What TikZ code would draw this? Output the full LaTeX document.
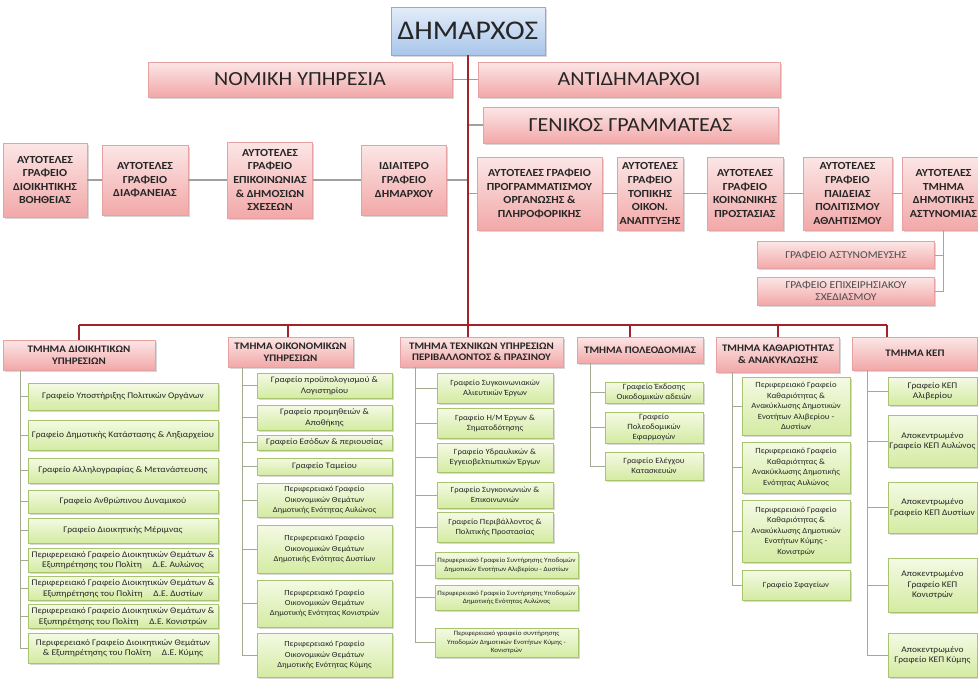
\documentclass[tikz,border=0pt]{standalone}
\usepackage{fontspec}
\setmainfont{Carlito}[FakeStretch=1.1]
\usetikzlibrary{shadows}
\definecolor{pinkT}{HTML}{FCE6E6}
\definecolor{pinkM}{HTML}{F2A8A8}
\definecolor{pinkB}{HTML}{E6A2A2}
\definecolor{blueT}{HTML}{E3EDF9}
\definecolor{blueM}{HTML}{A9C5EA}
\definecolor{blueB}{HTML}{8EAADB}
\definecolor{greenT}{HTML}{F4FAE4}
\definecolor{greenM}{HTML}{D4EBA2}
\definecolor{greenB}{HTML}{A8C46E}
\definecolor{redL}{HTML}{A3232B}
\definecolor{grayL}{HTML}{A0A0A0}
\definecolor{colL}{HTML}{A3AA92}
\definecolor{txt}{HTML}{262626}
\newcommand\gfont{\fontsize{8}{10}\selectfont}
\tikzset{
  shad/.style={drop shadow={opacity=0.3,shadow xshift=1.5pt,shadow yshift=-1.5pt}},
  pinkbox/.style={shad,draw=pinkB,line width=0.5pt,top color=pinkT,bottom color=pinkM,align=center,inner sep=1pt,text=txt},
  bluebox/.style={shad,draw=blueB,line width=0.5pt,top color=blueT,bottom color=blueM,align=center,inner sep=1pt,text=txt},
  greenbox/.style={shad,draw=greenB,line width=0.5pt,top color=greenT,bottom color=greenM,align=center,inner sep=1pt,text=txt,font=\gfont},
  bigtxt/.style={font=\fontsize{20}{23}\selectfont},
  boldtxt/.style={font=\bfseries\fontsize{10.8}{13.6}\selectfont},
  headtxt/.style={font=\bfseries\fontsize{10}{11.5}\selectfont},
  subtxt/.style={font=\fontsize{10.5}{12}\selectfont,text=black!70},
  redline/.style={draw=redL,line width=2.5pt},
  grayline/.style={draw=grayL,line width=1.2pt},
  colline/.style={draw=colL,line width=1pt},
}
\newcommand\greenbx[6]{\node[greenbox,minimum width=#4,minimum height=#5] (#1) at (#2,#3) {#6};}
\newcommand\pinkbx[7]{\node[pinkbox,#7,minimum width=#4,minimum height=#5] (#1) at (#2,#3) {#6};}
\begin{document}
\begin{tikzpicture}[x=1pt,y=-1pt]
\fill[white] (0,0) rectangle (978,678);
\useasboundingbox (0,0) rectangle (978,678);
% top
\node[bluebox,minimum width=154,minimum height=48,font=\fontsize{27}{30}\selectfont] (dim) at (468,31) {ΔΗΜΑΡΧΟΣ};
\pinkbx{nom}{300}{79.5}{304}{35}{ΝΟΜΙΚΗ ΥΠΗΡΕΣΙΑ}{bigtxt}
\pinkbx{ant}{629}{79.5}{302}{35}{ΑΝΤΙΔΗΜΑΡΧΟΙ}{bigtxt}
\pinkbx{gen}{630.5}{125}{295}{36}{ΓΕΝΙΚΟΣ ΓΡΑΜΜΑΤΕΑΣ}{bigtxt}
% left row
\pinkbx{l1}{45}{180}{84}{74}{ΑΥΤΟΤΕΛΕΣ\\ΓΡΑΦΕΙΟ\\ΔΙΟΙΚΗΤΙΚΗΣ\\ΒΟΗΘΕΙΑΣ}{boldtxt}
\pinkbx{l2}{145}{180}{86}{70}{ΑΥΤΟΤΕΛΕΣ\\ΓΡΑΦΕΙΟ\\ΔΙΑΦΑΝΕΙΑΣ}{boldtxt}
\pinkbx{l3}{270}{180}{85}{76}{ΑΥΤΟΤΕΛΕΣ\\ΓΡΑΦΕΙΟ\\ΕΠΙΚΟΙΝΩΝΙΑΣ\\\& ΔΗΜΟΣΙΩΝ\\ΣΧΕΣΕΩΝ}{boldtxt}
\pinkbx{l4}{404}{180}{85}{70}{ΙΔΙΑΙΤΕΡΟ\\ΓΡΑΦΕΙΟ\\ΔΗΜΑΡΧΟΥ}{boldtxt}
% right row
\pinkbx{r1}{539.5}{193.5}{125}{73}{ΑΥΤΟΤΕΛΕΣ ΓΡΑΦΕΙΟ\\ΠΡΟΓΡΑΜΜΑΤΙΣΜΟΥ\\ΟΡΓΑΝΩΣΗΣ \&\\ΠΛΗΡΟΦΟΡΙΚΗΣ}{boldtxt}
\pinkbx{r2}{650}{193.5}{66}{73}{ΑΥΤΟΤΕΛΕΣ\\ΓΡΑΦΕΙΟ\\ΤΟΠΙΚΗΣ\\ΟΙΚΟΝ.\\ΑΝΑΠΤΥΞΗΣ}{boldtxt}
\pinkbx{r3}{745}{193.5}{76}{73}{ΑΥΤΟΤΕΛΕΣ\\ΓΡΑΦΕΙΟ\\ΚΟΙΝΩΝΙΚΗΣ\\ΠΡΟΣΤΑΣΙΑΣ}{boldtxt}
\pinkbx{r4}{847.5}{193.5}{89}{73}{ΑΥΤΟΤΕΛΕΣ\\ΓΡΑΦΕΙΟ\\ΠΑΙΔΕΙΑΣ\\ΠΟΛΙΤΙΣΜΟΥ\\ΑΘΛΗΤΙΣΜΟΥ}{boldtxt}
\pinkbx{r5}{943.5}{193.5}{83}{73}{ΑΥΤΟΤΕΛΕΣ\\ΤΜΗΜΑ\\ΔΗΜΟΤΙΚΗΣ\\ΑΣΤΥΝΟΜΙΑΣ}{boldtxt}
\pinkbx{s1}{846}{255}{177}{27}{ΓΡΑΦΕΙΟ ΑΣΤΥΝΟΜΕΥΣΗΣ}{subtxt}
\pinkbx{s2}{846}{291}{177}{28}{ΓΡΑΦΕΙΟ ΕΠΙΧΕΙΡΗΣΙΑΚΟΥ\\ΣΧΕΔΙΑΣΜΟΥ}{subtxt}
% department headers
\pinkbx{h1}{79}{355}{152}{30}{ΤΜΗΜΑ ΔΙΟΙΚΗΤΙΚΩΝ\\ΥΠΗΡΕΣΙΩΝ}{headtxt}
\pinkbx{h2}{290.5}{352}{125}{30}{ΤΜΗΜΑ ΟΙΚΟΝΟΜΙΚΩΝ\\ΥΠΗΡΕΣΙΩΝ}{headtxt}
\pinkbx{h3}{481.5}{352}{163}{30}{ΤΜΗΜΑ ΤΕΧΝΙΚΩΝ ΥΠΗΡΕΣΙΩΝ\\ΠΕΡΙΒΑΛΛΟΝΤΟΣ \& ΠΡΑΣΙΝΟΥ}{headtxt}
\pinkbx{h4}{640}{350}{126}{26}{ΤΜΗΜΑ ΠΟΛΕΟΔΟΜΙΑΣ}{headtxt}
\pinkbx{h5}{778}{354.5}{123}{35}{ΤΜΗΜΑ ΚΑΘΑΡΙΟΤΗΤΑΣ\\\& ΑΝΑΚΥΚΛΩΣΗΣ}{headtxt}
\pinkbx{h6}{915}{353.5}{125}{33}{ΤΜΗΜΑ ΚΕΠ}{headtxt}
% column 1
\begin{scope}
\renewcommand\gfont{\fontsize{8.6}{10.5}\selectfont}
\greenbx{a1}{123}{396.5}{190}{27}{Γραφείο Υποστήριξης Πολιτικών Οργάνων}
\greenbx{a2}{123}{435}{190}{30}{Γραφείο Δημοτικής Κατάστασης \& Ληξιαρχείου}
\greenbx{a3}{123}{470.5}{190}{25}{Γραφείο Αλληλογραφίας \& Μετανάστευσης}
\greenbx{a4}{123}{501.5}{190}{23}{Γραφείο Ανθρώπινου Δυναμικού}
\greenbx{a5}{123}{530.5}{190}{25}{Γραφείο Διοικητικής Μέριμνας}
\greenbx{a6}{123}{560}{190}{24}{Περιφερειακό Γραφείο Διοικητικών Θεμάτων \&\\Εξυπηρέτησης του Πολίτη \quad Δ.Ε. Αυλώνος}
\greenbx{a7}{123}{588.5}{190}{24}{Περιφερειακό Γραφείο Διοικητικών Θεμάτων \&\\Εξυπηρέτησης του Πολίτη \quad Δ.Ε. Δυστίων}
\greenbx{a8}{123}{616.5}{190}{24}{Περιφερειακό Γραφείο Διοικητικών Θεμάτων \&\\Εξυπηρέτησης του Πολίτη \quad Δ.Ε. Κονιστρών}
\greenbx{a9}{123}{648}{190}{30}{Περιφερειακό Γραφείο Διοικητικών Θεμάτων\\\& Εξυπηρέτησης του Πολίτη \quad Δ.Ε. Κύμης}
\end{scope}
% column 2
\begin{scope}
\renewcommand\gfont{\fontsize{8.4}{10.5}\selectfont}
\greenbx{b1}{324.5}{385.5}{135}{25}{Γραφείο προϋπολογισμού \&\\Λογιστηρίου}
\greenbx{b2}{324.5}{417.5}{135}{25}{Γραφείο προμηθειών \&\\Αποθήκης}
\greenbx{b3}{324.5}{442.5}{135}{15}{Γραφείο Εσόδων \& περιουσίας}
\greenbx{b4}{324.5}{466.5}{135}{17}{Γραφείο Ταμείου}
\renewcommand\gfont{\fontsize{7.8}{10.3}\selectfont}
\greenbx{b5}{324.5}{500}{135}{34}{Περιφερειακό Γραφείο\\Οικονομικών Θεμάτων\\Δημοτικής Ενότητας Αυλώνος}
\greenbx{b6}{324.5}{549}{135}{48}{Περιφερειακό Γραφείο\\Οικονομικών Θεμάτων\\Δημοτικής Ενότητας Δυστίων}
\greenbx{b7}{324.5}{603.5}{135}{47}{Περιφερειακό Γραφείο\\Οικονομικών Θεμάτων\\Δημοτικής Ενότητας Κονιστρών}
\greenbx{b8}{324.5}{655}{135}{44}{Περιφερειακό Γραφείο\\Οικονομικών Θεμάτων\\Δημοτικής Ενότητας Κύμης}
\end{scope}
% column 3
\begin{scope}
\renewcommand\gfont{\fontsize{7.9}{10}\selectfont}
\greenbx{c1}{495}{388}{116}{30}{Γραφείο Συγκοινωνιακών\\Αλιευτικών Έργων}
\greenbx{c2}{495}{423}{116}{30}{Γραφείο Η/Μ Έργων \&\\Σηματοδότησης}
\greenbx{c3}{495}{457.5}{116}{29}{Γραφείο Υδραυλικών \&\\Εγγειοβελτιωτικών Έργων}
\greenbx{c4}{495}{495}{116}{26}{Γραφείο Συγκοινωνιών \&\\Επικοινωνιών}
\greenbx{c5}{495}{527}{116}{30}{Γραφείο Περιβάλλοντος \&\\Πολιτικής Προστασίας}
\renewcommand\gfont{\fontsize{6.6}{8.6}\selectfont}
\greenbx{c6}{506.5}{565}{143}{26}{Περιφερειακό Γραφείο Συντήρησης Υποδομών\\Δημοτικών Ενοτήτων Αλιβερίου - Δυστίων}
\greenbx{c7}{506.5}{597.5}{143}{25}{Περιφερειακό Γραφείο Συντήρησης Υποδομών\\Δημοτικής Ενότητας Αυλώνος}
\greenbx{c8}{506.5}{642.5}{143}{29}{Περιφερειακό γραφείο συντήρησης\\Υποδομών Δημοτικών Ενοτήτων Κύμης -\\Κονιστρών}
\end{scope}
% column 4
\greenbx{d1}{654}{392.5}{98}{21}{Γραφείο Έκδοσης\\Οικοδομικών αδειών}
\greenbx{d2}{654}{427.5}{98}{31}{Γραφείο\\Πολεοδομικών\\Εφαρμογών}
\greenbx{d3}{654}{466}{98}{28}{Γραφείο Ελέγχου\\Κατασκευών}
% column 5
\begin{scope}
\renewcommand\gfont{\fontsize{7.9}{10.5}\selectfont}
\greenbx{e1}{796}{406}{108}{58}{Περιφερειακό Γραφείο\\Καθαριότητας \&\\Ανακύκλωσης Δημοτικών\\Ενοτήτων Αλιβερίου -\\Δυστίων}
\greenbx{e2}{796}{467.5}{108}{51}{Περιφερειακό Γραφείο\\Καθαριότητας \&\\Ανακύκλωσης Δημοτικής\\Ενότητας Αυλώνος}
\greenbx{e3}{796}{531}{108}{62}{Περιφερειακό Γραφείο\\Καθαριότητας \&\\Ανακύκλωσης Δημοτικών\\Ενοτήτων Κύμης -\\Κονιστρών}
\greenbx{e4}{796}{585}{108}{30}{Γραφείο Σφαγείων}
\end{scope}
% column 6
\begin{scope}
\renewcommand\gfont{\fontsize{8.6}{10.5}\selectfont}
\greenbx{f1}{932.5}{391}{89}{28}{Γραφείο ΚΕΠ\\Αλιβερίου}
\greenbx{f2}{932.5}{441}{89}{52}{Αποκεντρωμένο\\Γραφείο ΚΕΠ Αυλώνος}
\greenbx{f3}{932.5}{507.5}{89}{51}{Αποκεντρωμένο\\Γραφείο ΚΕΠ Δυστίων}
\greenbx{f4}{932.5}{585}{89}{54}{Αποκεντρωμένο\\Γραφείο ΚΕΠ\\Κονιστρών}
\greenbx{f5}{932.5}{655}{89}{44}{Αποκεντρωμένο\\Γραφείο ΚΕΠ Κύμης}
\end{scope}
% connectors: top
\draw[grayline] (nom.east) -- (nom.east -| dim.south);
\draw[grayline] (ant.west -| dim.south) -- (ant.west);
\draw[grayline] (gen.west -| dim.south) -- (gen.west);
\draw[grayline] (l1.east) -- (l2.west);
\draw[grayline] (l2.east) -- (l3.west);
\draw[grayline] (l3.east) -- (l4.west);
\draw[grayline] (l4.east) -- (l4.east -| dim.south);
\draw[grayline] (r1.west -| dim.south) -- (r1.west);
\draw[grayline] (r1.east) -- (r2.west);
\draw[grayline] (r2.east) -- (r3.west);
\draw[grayline] (r3.east) -- (r4.west);
\draw[grayline] (r4.east) -- (r5.west);
\draw[colline] (r5.south) -- (r5.south |- s2.east) -- (s2.east);
\draw[colline] (s1.east) -- (s1.east -| r5.south);
% red bus
\coordinate (k1) at (79,325);
\coordinate (k2) at (288,325);
\coordinate (k4) at (630,325);
\coordinate (k5) at (778,325);
\coordinate (k6) at (887,325);
\draw[redline] (dim.south) -- (dim.south |- h3.north);
\draw[redline] (k1) -- (k6);
\draw[redline] (k1) -- (k1 |- h1.north);
\draw[redline] (k2) -- (k2 |- h2.north);
\draw[redline] (k4) -- (k4 |- h4.north);
\draw[redline] (k5) -- (k5 |- h5.north);
\draw[redline] (k6) -- (k6 |- h6.north);
% column connectors
\coordinate (q1) at (20,0);
\coordinate (q2) at (242,0);
\coordinate (q3) at (415,0);
\coordinate (q4) at (590,0);
\coordinate (q5) at (732,0);
\coordinate (q6) at (867,0);
\draw[colline] (h1.south -| q1) -- (a9.west -| q1);
\foreach \n in {a1,a2,a3,a4,a5,a6,a7,a8,a9} \draw[colline] (\n.west) -- (\n.west -| q1);
\draw[colline] (h2.south -| q2) -- (b8.west -| q2);
\foreach \n in {b1,b2,b3,b4,b5,b6,b7,b8} \draw[colline] (\n.west) -- (\n.west -| q2);
\draw[colline] (h3.south -| q3) -- (c8.west -| q3);
\foreach \n in {c1,c2,c3,c4,c5,c6,c7,c8} \draw[colline] (\n.west) -- (\n.west -| q3);
\draw[colline] (h4.south -| q4) -- (d3.west -| q4);
\foreach \n in {d1,d2,d3} \draw[colline] (\n.west) -- (\n.west -| q4);
\draw[colline] (h5.south -| q5) -- (e4.west -| q5);
\foreach \n in {e1,e2,e3,e4} \draw[colline] (\n.west) -- (\n.west -| q5);
\draw[colline] (h6.south -| q6) -- (f5.west -| q6);
\foreach \n in {f1,f2,f3,f4,f5} \draw[colline] (\n.west) -- (\n.west -| q6);
\end{tikzpicture}
\end{document}
